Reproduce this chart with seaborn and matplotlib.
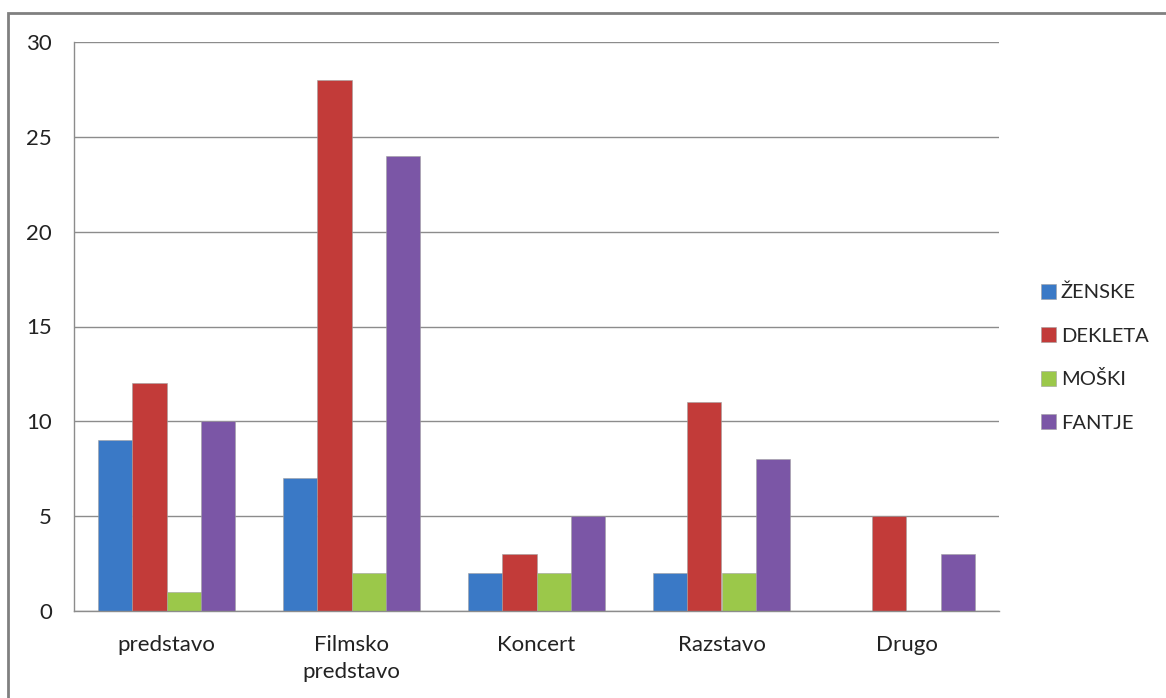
import matplotlib
matplotlib.use("Agg")
import matplotlib.pyplot as plt
import seaborn as sns
import pandas as pd
from matplotlib.patches import Rectangle

# podatki
kategorije = ["predstavo", "Filmsko\npredstavo", "Koncert", "Razstavo", "Drugo"]
skupine = ["ŽENSKE", "DEKLETA", "MOŠKI", "FANTJE"]
zenske = [9, 7, 2, 2, 0]
dekleta = [12, 28, 3, 11, 5]
moski = [1, 2, 2, 2, 0]
fantje = [10, 24, 5, 8, 3]
barve = ["#3a79c6", "#c23b39", "#9bc84a", "#7b56a6"]

rows = []
for ime, vrednosti in zip(skupine, [zenske, dekleta, moski, fantje]):
    for k, v in zip(kategorije, vrednosti):
        rows.append({"kategorija": k, "skupina": ime, "stevilo": v})
df = pd.DataFrame(rows)

sns.set_style("white")
plt.rcParams['font.family'] = ['Lato', 'DejaVu Sans']

fig = plt.figure(figsize=(11.66, 6.98), dpi=100)
ax = fig.add_axes([74/1166, 1-611/698, (999-74)/1166, (611-42)/698])

sns.barplot(data=df, x="kategorija", y="stevilo", hue="skupina", palette=barve,
            width=0.74, ax=ax, saturation=1, edgecolor="#a0a0a0", linewidth=0.4)

ax.set_xlim(-0.5, 4.5)
ax.set_ylim(0, 30)
ax.set_yticks(range(0, 31, 5))
ax.yaxis.grid(True, color="#8c8c8c", linewidth=1)
ax.set_axisbelow(True)
ax.set_xlabel("")
ax.set_ylabel("")

for s in ["top", "right"]:
    ax.spines[s].set_visible(False)
for s in ["left", "bottom"]:
    ax.spines[s].set_color("#8c8c8c")
    ax.spines[s].set_linewidth(1)

ax.tick_params(axis="x", which="major", length=0, labelsize=16, pad=17, colors="#222222")
for t in ax.get_xticklabels():
    t.set_linespacing(1.45)
ax.set_xticks([i - 0.5 for i in range(6)], minor=True)
ax.tick_params(axis="x", which="minor", length=7, color="#8c8c8c", direction="out")
ax.tick_params(axis="y", length=7, color="#8c8c8c", labelsize=16, pad=9, colors="#222222")

handles, labels = ax.get_legend_handles_labels()
ax.legend(handles, labels, loc="center left", bbox_to_anchor=(1.045, 0.445), frameon=False,
          fontsize=14.5, handlelength=0.75, handleheight=0.75, handletextpad=0.25,
          labelspacing=1.28, borderpad=0, borderaxespad=0)

# okvir
fig.patches.append(Rectangle((8/1166, -0.05), 1.1, 1-13/698+0.05, transform=fig.transFigure,
                             fill=False, edgecolor="#808080", linewidth=2))

fig.savefig("out.png", dpi=100)
